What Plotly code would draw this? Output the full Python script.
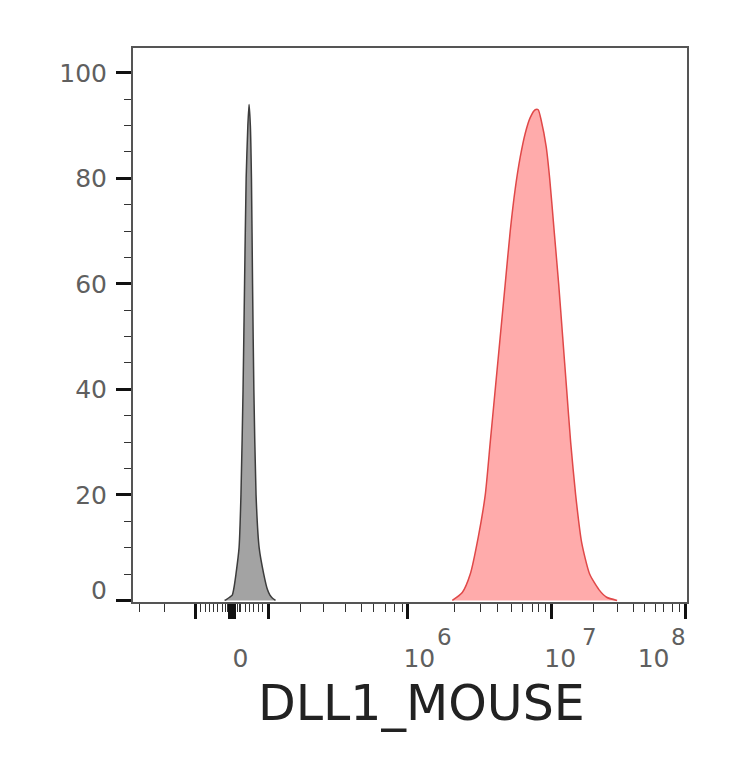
import plotly.graph_objects as go

# ---- data (x in biexponential display units, 0 = zero fluorescence) ----
control_x = [-7.5, -5.5, -2.5, 0.2, 1.5, 3.9, 7.0, 8.9, 11.0, 12.5, 14.1, 15.8, 17.0,
             18.3, 19.4, 20.5, 21.8, 24.0, 27.1, 31.7, 35.5, 37.9, 40.5, 43.5]
control_count = [0, 0.2, 0.6, 1, 2, 5, 10, 20, 40, 60, 80, 90, 94,
                 90, 80, 60, 40, 20, 10, 5, 2, 1, 0.4, 0]

dll1_x = [220.5, 230.5, 238.5, 246.5, 253.5, 258.5, 263.5, 268.5, 273.5, 278.5, 283.5,
          288.5, 293.5, 298.5, 303.5, 306.5, 309.5, 314.5, 318.0, 322.5, 327.0, 331.0,
          335.0, 339.0, 344.0, 350.0, 358.0, 367.5, 375.0, 385.5]
dll1_count = [0, 1.5, 5, 12, 20, 30, 40, 50, 60, 70, 78,
              84, 88.5, 91.5, 93, 93, 91, 86, 80, 70, 60, 50,
              40, 30, 20, 11, 5, 2, 0.6, 0]

# ---- axis ticks (display units) ----
x_major_ticks = [-36.5, -2.5, -1.5, -0.5, 0.5, 1.5, 2.5, 36.5, 175.5, 319.5, 453.5]
x_minor_ticks = [-92.5, -67.5, -31.5, -26.5, -22.5, -18.5, -14.5, -9.5, -7, -5,
                 5, 7, 8.5, 13.5, 17.5, 21.5, 26.5, 30.5,
                 68.5, 91.5, 113.5, 129.5, 141.5, 153.5, 162.5, 170.5,
                 222.5, 248.5, 265.5, 279.5, 290.5, 300.5, 306.5, 313.5,
                 361.5, 385.5, 401.5, 412.5, 423.5, 431.5, 440.5, 447.5]
x_label_pos = [8.5, 187.5, 328.5, 422]
x_label_text = ['0', '10', '10', '10']
x_exp_pos = [212.5, 358, 447]
x_exp_text = ['6', '7', '8']

y_major_ticks = [0, 20, 40, 60, 80, 100]
y_label_pos = [2, 20, 40, 60, 80, 100]
y_label_text = ['0', '20', '40', '60', '80', '100']

x_range = [-99.2, 455.5]
y_range = [-0.3, 104.7]

fig = go.Figure()
# control histogram on the overlaid (label) axes, which share the same ranges
fig.add_trace(go.Scatter(x=control_x, y=control_count, mode='lines', fill='tozeroy',
                         xaxis='x2', yaxis='y2',
                         line=dict(color='#3c3c3c', width=1.5, shape='spline', smoothing=0.6),
                         fillcolor='#a3a3a3', showlegend=False, hoverinfo='skip'))
fig.add_trace(go.Scatter(x=dll1_x, y=dll1_count, mode='lines', fill='tozeroy',
                         line=dict(color='#e04848', width=1.5, shape='spline', smoothing=0.6),
                         fillcolor='#ffabab', showlegend=False, hoverinfo='skip'))

label_color = '#5f5f5f'
tick_font = dict(family='DejaVu Sans', size=25, color=label_color)

annotations = [dict(text='DLL1_MOUSE', xref='paper', yref='paper',
                    x=0.5216, y=-0.184, xanchor='center', yanchor='middle',
                    showarrow=False,
                    font=dict(family='DejaVu Sans', size=49, color='#222222'))]
for xp, tx in zip(x_exp_pos, x_exp_text):
    annotations.append(dict(text=tx, xref='x', yref='paper', x=xp, y=-0.0623,
                            xanchor='center', yanchor='middle', showarrow=False,
                            font=dict(family='DejaVu Sans', size=23, color=label_color)))

fig.update_layout(
    width=748, height=768,
    margin=dict(l=125, r=69, t=40, b=174),
    paper_bgcolor='white', plot_bgcolor='white',
    xaxis=dict(range=x_range, showgrid=False, zeroline=False,
               showline=True, mirror=True, linecolor='#555555', linewidth=1.5,
               tickmode='array', tickvals=x_major_ticks, ticks='outside', ticklen=15,
               tickwidth=2.5, tickcolor='#111111', showticklabels=False,
               minor=dict(tickmode='array', tickvals=x_minor_ticks, ticks='outside',
                          ticklen=8, tickwidth=1.2, tickcolor='#333333')),
    xaxis2=dict(range=x_range, overlaying='x', anchor='y2', side='bottom',
                showgrid=False, zeroline=False, showline=False,
                tickmode='array', tickvals=x_label_pos, ticktext=x_label_text,
                ticks='', ticklabelstandoff=39, tickfont=tick_font),
    yaxis=dict(range=y_range, showgrid=False, zeroline=False,
               showline=True, mirror=True, linecolor='#555555', linewidth=1.5,
               tickmode='array', tickvals=y_major_ticks, ticks='outside', ticklen=15,
               tickwidth=2.5, tickcolor='#111111', showticklabels=False,
               minor=dict(dtick=5, tick0=0, ticks='outside', ticklen=7,
                          tickwidth=1.2, tickcolor='#333333')),
    yaxis2=dict(range=y_range, overlaying='y', anchor='x2', side='left',
                showgrid=False, zeroline=False, showline=False,
                tickmode='array', tickvals=y_label_pos, ticktext=y_label_text,
                ticks='', ticklabelstandoff=25, tickfont=tick_font),
    annotations=annotations,
)

fig.write_html('out.html')
